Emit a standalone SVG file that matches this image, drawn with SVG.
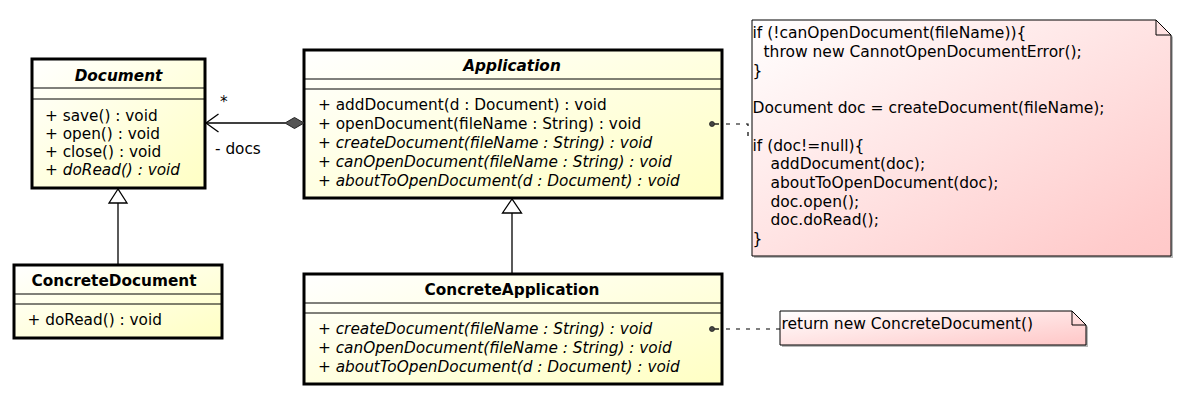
<svg xmlns="http://www.w3.org/2000/svg" width="1185" height="404" viewBox="0 0 1185 404">
<defs>
<linearGradient id="gc" x1="0" y1="0" x2="1" y2="1">
<stop offset="0" stop-color="#FFFFFF"/>
<stop offset="0.85" stop-color="#FFFFCC"/>
<stop offset="1" stop-color="#FFFFC4"/>
</linearGradient>
<linearGradient id="gn" x1="0" y1="0" x2="1" y2="1">
<stop offset="0" stop-color="#FFFFFF"/>
<stop offset="0.9" stop-color="#FFCCCC"/>
<stop offset="1" stop-color="#FFC8C8"/>
</linearGradient>
<style>
text{font-family:"DejaVu Sans","Liberation Sans",sans-serif;font-size:15.3px;fill:#000}
.t{font-weight:bold;text-anchor:middle}
.i{font-style:italic}
.box{fill:url(#gc);stroke:#000;stroke-width:3}
.sep{stroke:#000;stroke-width:1}
.note{fill:url(#gn);stroke:#000;stroke-width:1}
.shadow{fill:#b8b8b8}
.fold{fill:none;stroke:#000;stroke-width:1}
.ln{fill:none;stroke:#000;stroke-width:1.3}
.dash{fill:none;stroke:#000;stroke-width:1.2;stroke-dasharray:4 6}
.nt{font-size:15.5px}
</style>
</defs>
<rect width="1185" height="404" fill="#fff"/>

<g id="Document">
<rect class="box" x="32" y="59" width="173" height="129"/>
<line class="sep" x1="32" y1="88" x2="205" y2="88"/>
<line class="sep" x1="32" y1="99" x2="205" y2="99"/>
<text class="t i" x="118.5" y="80.5">Document</text>
<text x="45" y="121">+ save() : void</text>
<text x="45" y="139">+ open() : void</text>
<text x="45" y="157">+ close() : void</text>
<text x="45" y="175">+ <tspan class="i">doRead() : void</tspan></text>
</g>

<g id="ConcreteDocument">
<rect class="box" x="14" y="265" width="208" height="73"/>
<line class="sep" x1="14" y1="294" x2="222" y2="294"/>
<line class="sep" x1="14" y1="304" x2="222" y2="304"/>
<text class="t" x="114" y="285.5">ConcreteDocument</text>
<text x="27.5" y="325">+ doRead() : void</text>
</g>

<g id="Application">
<rect class="box" x="304" y="50" width="418" height="148"/>
<line class="sep" x1="304" y1="79" x2="722" y2="79"/>
<line class="sep" x1="304" y1="89" x2="722" y2="89"/>
<text class="t i" x="512" y="71">Application</text>
<text x="318" y="110">+ addDocument(d : Document) : void</text>
<text x="318" y="129">+ openDocument(fileName : String) : void</text>
<text x="318" y="148">+ <tspan class="i">createDocument(fileName : String) : void</tspan></text>
<text x="318" y="167">+ <tspan class="i">canOpenDocument(fileName : String) : void</tspan></text>
<text x="318" y="186">+ <tspan class="i">aboutToOpenDocument(d : Document) : void</tspan></text>
</g>

<g id="ConcreteApplication">
<rect class="box" x="304" y="274" width="418" height="110"/>
<line class="sep" x1="304" y1="303" x2="722" y2="303"/>
<line class="sep" x1="304" y1="313" x2="722" y2="313"/>
<text class="t" x="512" y="294.5">ConcreteApplication</text>
<text x="318" y="334">+ <tspan class="i">createDocument(fileName : String) : void</tspan></text>
<text x="318" y="353">+ <tspan class="i">canOpenDocument(fileName : String) : void</tspan></text>
<text x="318" y="372">+ <tspan class="i">aboutToOpenDocument(d : Document) : void</tspan></text>
</g>

<g id="NoteOpenDocument">
<path class="shadow" d="M754,22 H1158 L1173,37 V258 H754 Z"/>
<path class="note" d="M752,20 H1156 L1171,35 V256 H752 Z"/>
<path class="fold" d="M1156,20 V35 H1171"/>
<g class="nt">
<text class="nt" x="752.5" y="38.3">if (!canOpenDocument(fileName)){</text>
<text class="nt" x="763.5" y="57">throw new CannotOpenDocumentError();</text>
<text class="nt" x="752.5" y="75.7">}</text>
<text class="nt" x="752.5" y="113">Document doc = createDocument(fileName);</text>
<text class="nt" x="752.5" y="150.5">if (doc!=null){</text>
<text class="nt" x="770.5" y="169.2">addDocument(doc);</text>
<text class="nt" x="770.5" y="187.9">aboutToOpenDocument(doc);</text>
<text class="nt" x="770.5" y="206.6">doc.open();</text>
<text class="nt" x="770.5" y="225.3">doc.doRead();</text>
<text class="nt" x="752.5" y="244">}</text>
</g>
</g>

<g id="NoteCreateDocument">
<path class="shadow" d="M782,313 H1074 L1088,327 V347 H782 Z"/>
<path class="note" d="M780,311 H1072 L1086,325 V345 H780 Z"/>
<path class="fold" d="M1072,311 V325 H1086"/>
<text class="nt" x="781.5" y="328.5">return new ConcreteDocument()</text>
</g>

<g id="connectors">
<line class="ln" x1="118" y1="265" x2="118" y2="203"/>
<polygon points="118,189 109,203 127,203" fill="#fff" stroke="#000" stroke-width="1.3"/>
<line class="ln" x1="512" y1="274" x2="512" y2="213"/>
<polygon points="512,199 502.5,213 521.5,213" fill="#fff" stroke="#000" stroke-width="1.3"/>
<line class="ln" x1="206" y1="123" x2="285" y2="123"/>
<polyline class="ln" points="218.5,114 206,123 218.5,132"/>
<polygon points="304,123 294.5,117.5 285,123 294.5,128.5" fill="#555" stroke="#222" stroke-width="1"/>
<text x="220" y="107">*</text>
<text x="215" y="154">- docs</text>
<circle cx="712" cy="124" r="2.5" fill="#444" stroke="#222" stroke-width="0.8"/>
<line class="ln" x1="714.5" y1="124" x2="719" y2="124"/>
<path class="dash" d="M726,124 H748 V137 H752" style="stroke-dasharray:4 6"/>
<circle cx="712" cy="329" r="2.5" fill="#444" stroke="#222" stroke-width="0.8"/>
<line class="ln" x1="714.5" y1="329" x2="719" y2="329"/>
<line class="dash" x1="726" y1="329" x2="780" y2="329"/>
</g>
</svg>
